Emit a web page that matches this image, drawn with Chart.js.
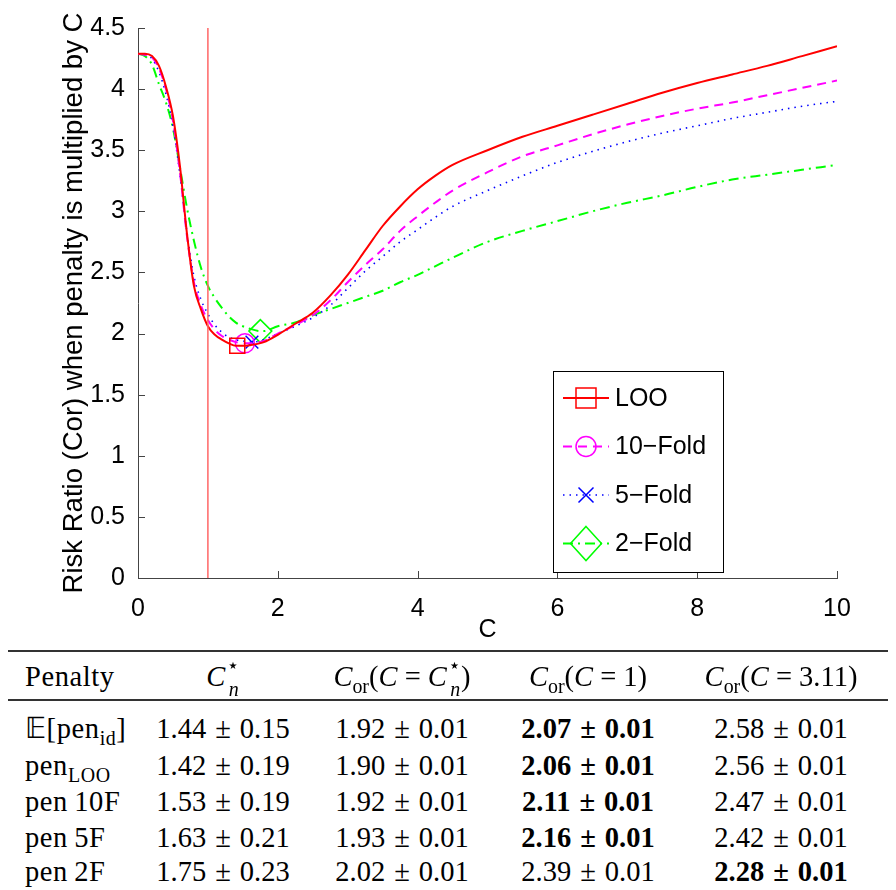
<!DOCTYPE html>
<html>
<head>
<meta charset="utf-8">
<script src="https://cdn.jsdelivr.net/npm/chart.js@4.4.0/dist/chart.umd.min.js"></script>
<style>
  html, body { margin: 0; padding: 0; background: #fff; }
  #wrap { position: relative; width: 896px; height: 890px; overflow: hidden; }
  #grafico { position: absolute; left: 0; top: 0; }
  .rule { position: absolute; left: 8px; width: 880px; background: #333; }
  .cell { position: absolute; font-family: "Liberation Serif", serif; font-size: 28.5px; color: #000;
          white-space: nowrap; transform: translate(-50%, -50%); line-height: 1; }
  .cell.left { transform: translate(0, -50%); letter-spacing: 0.6px; }
  .b { font-weight: bold; }
  .pm { display: inline-block; width: 0.78em; margin: 0 0.2em; text-align: center; }
  sub { font-size: 0.7em; vertical-align: -0.35em; line-height: 0; }
  .cs { position: relative; padding-right: 0.5em; }
  .cs .up { position: absolute; right: 0.02em; top: -0.25em; font-size: 0.7em; font-family: "DejaVu Sans"; }
  .cs .dn { position: absolute; right: 0.05em; bottom: -0.4em; font-size: 0.7em; }
</style>
</head>
<body>
<div id="wrap">
  <canvas id="grafico" width="896" height="660"></canvas>
  <div id="tabela"></div>
</div>
<script>
// ================= DADOS =================
const cValues = [0, 0.1, 0.2, 0.3, 0.4, 0.5, 0.6, 0.7, 0.8, 0.9, 1.0, 1.1, 1.2, 1.3, 1.4, 1.5, 1.6, 1.8, 2.0,
                 2.25, 2.5, 2.75, 3.0, 3.25, 3.5, 3.75, 4.0, 4.25, 4.5, 5.0, 5.5, 6.0, 6.5, 7.0, 7.5, 8.0, 8.5, 9.0, 9.5, 10];

const looValues = [4.29, 4.29, 4.27, 4.19, 4.02, 3.78, 3.37, 2.82, 2.39, 2.20, 2.06, 1.99, 1.95, 1.92, 1.90, 1.90, 1.905, 1.93, 1.99,
                   2.08, 2.17, 2.31, 2.48, 2.68, 2.88, 3.04, 3.18, 3.29, 3.38, 3.50, 3.61, 3.70, 3.79, 3.88, 3.97, 4.05, 4.12, 4.19, 4.27, 4.35];
const tenFoldValues = [4.29, 4.28, 4.26, 4.17, 4.00, 3.74, 3.32, 2.80, 2.42, 2.23, 2.11, 2.03, 1.98, 1.95, 1.93, 1.92, 1.92, 1.94, 2.00,
                       2.07, 2.15, 2.27, 2.42, 2.56, 2.69, 2.84, 2.96, 3.07, 3.17, 3.32, 3.45, 3.54, 3.63, 3.71, 3.78, 3.84, 3.89, 3.95, 4.01, 4.07];
const fiveFoldValues = [4.29, 4.28, 4.25, 4.14, 3.96, 3.70, 3.30, 2.83, 2.47, 2.28, 2.16, 2.07, 2.01, 1.97, 1.95, 1.94, 1.93, 1.95, 2.00,
                        2.06, 2.13, 2.23, 2.37, 2.51, 2.63, 2.75, 2.85, 2.95, 3.04, 3.17, 3.29, 3.40, 3.49, 3.57, 3.64, 3.70, 3.76, 3.81, 3.86, 3.90];
const twoFoldValues = [4.29, 4.27, 4.20, 4.04, 3.89, 3.68, 3.36, 3.03, 2.76, 2.54, 2.39, 2.29, 2.21, 2.14, 2.09, 2.06, 2.04, 2.02, 2.06,
                       2.09, 2.15, 2.20, 2.25, 2.30, 2.35, 2.42, 2.48, 2.55, 2.62, 2.75, 2.84, 2.92, 3.00, 3.07, 3.13, 3.20, 3.26, 3.30, 3.34, 3.38];

const seriesNames = ["LOO", "10\u2212Fold", "5\u2212Fold", "2\u2212Fold"];
const xTicks = [0, 2, 4, 6, 8, 10];
const yTicks = [0, 0.5, 1, 1.5, 2, 2.5, 3, 3.5, 4, 4.5];
const referenceC = 1;

// tabela
const penaltyLabels = ["\uD835\uDD3C[pen<sub>id</sub>]", "pen<sub>LOO</sub>", "pen\u200910F", "pen\u20095F", "pen\u20092F"];
const cStarMean = [1.44, 1.42, 1.53, 1.63, 1.75];
const cStarStd = [0.15, 0.19, 0.19, 0.21, 0.23];
const corAtCStar = [1.92, 1.90, 1.92, 1.93, 2.02];
const corAtOne = [2.07, 2.06, 2.11, 2.16, 2.39];
const corAt311 = [2.58, 2.56, 2.47, 2.42, 2.28];
const corStd = 0.01;
const boldAtOne = [true, true, true, true, false];
const boldAt311 = [false, false, false, false, true];

// ================= ESTILOS =================
const cores = ["#ff0000", "#ff00ff", "#0000ff", "#00ff00"];
const tracos = [[], [9, 6], [1.5, 5], [10, 5, 2, 5]];
const larguras = [2, 2, 1.6, 2];
const marcadores = ["rect", "circle", "crossRot", "rectRot"];
const raioMarcador = [10.6, 9.5, 9, 11.5];

function montarSerie(valores, idx) {
  // insere o ponto do minimo (C*) na curva
  const pts = cValues.map((c, i) => ({ x: c, y: valores[i] }));
  const mx = cStarMean[idx + 1], my = corAtCStar[idx + 1];
  const pos = pts.findIndex(p => p.x > mx);
  pts.splice(pos, 0, { x: mx, y: my, marker: true });
  return pts;
}

const todasSeries = [looValues, tenFoldValues, fiveFoldValues, twoFoldValues];

const datasets = todasSeries.map((vals, i) => ({
  label: seriesNames[i],
  data: montarSerie(vals, i),
  borderColor: cores[i],
  borderDash: tracos[i],
  borderWidth: larguras[i],
  cubicInterpolationMode: "monotone",
  pointStyle: marcadores[i],
  pointRadius: ctx => (ctx.raw && ctx.raw.marker ? raioMarcador[i] : 0),
  pointHoverRadius: 0,
  pointBorderColor: cores[i],
  pointBackgroundColor: "rgba(0,0,0,0)",
  pointBorderWidth: 1.5,
  fill: false,
  order: 1
}));

datasets.push({
  label: "C = 1",
  data: [{ x: referenceC, y: 0 }, { x: referenceC, y: 4.5 }],
  borderColor: "#ff6666",
  borderWidth: 1.5,
  pointRadius: 0,
  fill: false,
  order: 0
});

// ================= PLUGINS =================
const ticksInternos = {
  id: "ticksInternos",
  afterDraw(chart) {
    const { ctx, chartArea, scales } = chart;
    ctx.save();
    ctx.strokeStyle = "#444";
    ctx.lineWidth = 1;
    ctx.beginPath();
    yTicks.forEach(v => {
      const y = Math.round(scales.y.getPixelForValue(v)) + 0.5;
      ctx.moveTo(chartArea.left, y);
      ctx.lineTo(chartArea.left + 7, y);
    });
    xTicks.forEach(v => {
      const x = Math.round(scales.x.getPixelForValue(v)) + 0.5;
      ctx.moveTo(x, chartArea.bottom);
      ctx.lineTo(x, chartArea.bottom - 7);
    });
    ctx.stroke();
    ctx.restore();
  }
};

function desenharMarcador(ctx, tipo, x, y, tam) {
  ctx.beginPath();
  if (tipo === "rect") {
    ctx.rect(x - tam, y - tam, 2 * tam, 2 * tam);
  } else if (tipo === "circle") {
    ctx.arc(x, y, tam, 0, Math.PI * 2);
  } else if (tipo === "crossRot") {
    ctx.moveTo(x - tam, y - tam); ctx.lineTo(x + tam, y + tam);
    ctx.moveTo(x - tam, y + tam); ctx.lineTo(x + tam, y - tam);
  } else {
    ctx.moveTo(x, y - tam * 1.1); ctx.lineTo(x + tam, y);
    ctx.lineTo(x, y + tam * 1.1); ctx.lineTo(x - tam, y); ctx.closePath();
  }
  ctx.stroke();
}

const legendaBox = {
  id: "legendaBox",
  afterDraw(chart) {
    const ctx = chart.ctx;
    const bx = 553.5, by = 371.5, bw = 170, bh = 201;
    const tamLegenda = [10, 10, 7.5, 15.5];
    ctx.save();
    ctx.fillStyle = "#fff";
    ctx.fillRect(bx, by, bw, bh);
    ctx.strokeStyle = "#000";
    ctx.lineWidth = 1;
    ctx.strokeRect(bx, by, bw, bh);
    seriesNames.forEach((nome, i) => {
      const y = 398 + i * 48.5;
      ctx.strokeStyle = cores[i];
      ctx.lineWidth = larguras[i];
      ctx.setLineDash(tracos[i]);
      ctx.beginPath();
      ctx.moveTo(563, y);
      ctx.lineTo(609, y);
      ctx.stroke();
      ctx.setLineDash([]);
      ctx.lineWidth = 1.5;
      desenharMarcador(ctx, marcadores[i], 586, y, tamLegenda[i]);
      ctx.fillStyle = "#000";
      ctx.font = '25px "Liberation Sans"';
      ctx.textBaseline = "middle";
      ctx.textAlign = "left";
      ctx.fillText(nome, 615, y + 1);
    });
    ctx.restore();
  }
};

// ================= GRAFICO =================
const fonteEixo = { family: "Liberation Sans", size: 25 };

new Chart(document.getElementById("grafico").getContext("2d"), {
  type: "line",
  data: { datasets: datasets },
  options: {
    responsive: false,
    animation: false,
    devicePixelRatio: 1,
    events: [],
    layout: { padding: { top: 28, right: 59, left: 0, bottom: 0 } },
    plugins: { legend: { display: false }, tooltip: { enabled: false } },
    scales: {
      x: {
        type: "linear",
        min: 0, max: 10,
        afterFit: s => { s.height = 82; },
        afterBuildTicks: s => { s.ticks = xTicks.map(v => ({ value: v })); },
        grid: { display: false },
        border: { display: true, color: "#444", width: 1 },
        ticks: { font: fonteEixo, color: "#000", padding: 8, maxRotation: 0, callback: v => String(v) },
        title: { display: true, text: "C", font: fonteEixo, color: "#000", padding: { top: 0, bottom: 15 } }
      },
      y: {
        type: "linear",
        min: 0, max: 4.5,
        afterFit: s => { s.width = 138; },
        afterBuildTicks: s => { s.ticks = yTicks.map(v => ({ value: v })); },
        grid: { display: false },
        border: { display: true, color: "#444", width: 1 },
        ticks: { font: fonteEixo, color: "#000", padding: 5, callback: v => String(v) },
        title: { display: true, text: "Risk Ratio (Cor) when penalty is multiplied by C",
                 font: { family: "Liberation Sans", size: 27.5 },
                 color: "#000", padding: { top: 58, bottom: 0 } }
      }
    }
  },
  plugins: [ticksInternos, legendaBox]
});

// ================= TABELA =================
function pm(m, s, negrito) {
  const txt = m.toFixed(2) + '<span class="pm">\u00B1</span>' + s.toFixed(2);
  return negrito ? '<span class="b">' + txt + "</span>" : txt;
}

const cStarHtml = '<span class="cs"><i>C</i><span class="up">\u22C6</span><span class="dn"><i>n</i></span></span>';
const corHtml = "<i>C</i><sub>or</sub>";
const colX = [25, 223, 402, 588, 781];
const headerY = 677;
const rowY = [729, 766, 802, 838, 872];

const tabela = document.getElementById("tabela");
function addCell(html, x, y, left) {
  const d = document.createElement("div");
  d.className = left ? "cell left" : "cell";
  d.style.left = x + "px";
  d.style.top = y + "px";
  d.innerHTML = html;
  tabela.appendChild(d);
}
function addRule(y, h) {
  const d = document.createElement("div");
  d.className = "rule";
  d.style.top = y + "px";
  d.style.height = h + "px";
  tabela.appendChild(d);
}

addRule(650, 2);
addRule(699, 1.5);
addCell("Penalty", colX[0], headerY, true);
addCell(cStarHtml, colX[1], headerY);
addCell(corHtml + "(<i>C</i> = " + cStarHtml + ")", colX[2], headerY);
addCell(corHtml + "(<i>C</i> = 1)", colX[3], headerY);
addCell(corHtml + "(<i>C</i> = 3.11)", colX[4], headerY);

penaltyLabels.forEach((lab, i) => {
  addCell(lab, colX[0], rowY[i], true);
  addCell(pm(cStarMean[i], cStarStd[i], false), colX[1], rowY[i]);
  addCell(pm(corAtCStar[i], corStd, false), colX[2], rowY[i]);
  addCell(pm(corAtOne[i], corStd, boldAtOne[i]), colX[3], rowY[i]);
  addCell(pm(corAt311[i], corStd, boldAt311[i]), colX[4], rowY[i]);
});
</script>
</body>
</html>
